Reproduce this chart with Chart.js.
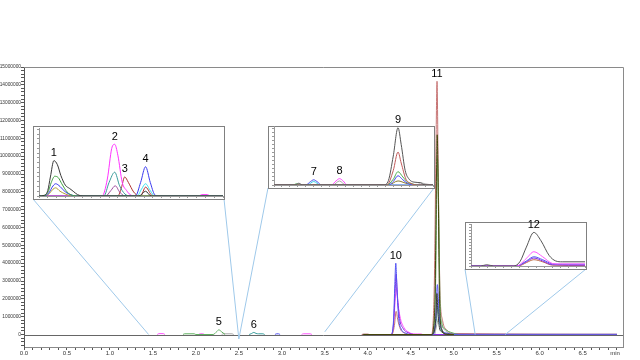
<!DOCTYPE html>
<html><head><meta charset="utf-8">
<script src="https://cdn.jsdelivr.net/npm/chart.js@4.4.1/dist/chart.umd.min.js"></script>
<style>
html,body{margin:0;padding:0;background:#fff;}
#wrap{position:relative;width:640px;height:360px;overflow:hidden;background:#fff;}
canvas{position:absolute;}
</style></head><body>
<div id="wrap">
<canvas id="main" width="640" height="360" style="left:0;top:0"></canvas>
<canvas id="insA"></canvas>
<canvas id="insB"></canvas>
<canvas id="insC"></canvas>
</div>
<script>
// ---------- MAIN CHROMATOGRAM DATA (retention time in min, intensity) ----------
const mainOliveX = [3.95, 4.74, 4.78, 4.80, 4.808, 4.82, 4.835, 4.86, 4.92, 5.0];
const mainOliveY = [0, 0, 1500000, 9000000, 11200000, 8000000, 2000000, 300000, 0, 0];

const mainBlackX = [3.95, 4.74, 4.78, 4.795, 4.805, 4.815, 4.83, 4.86, 4.95, 5.0];
const mainBlackY = [0, 0, 300000, 1200000, 2300000, 1400000, 500000, 150000, 20000, 0];

const mainBlueX = [2.92, 2.94, 2.96, 2.98, 3.0, 4.05, 4.27, 4.30, 4.315, 4.326, 4.34, 4.36, 4.39, 4.44, 4.5, 4.76, 4.79, 4.81, 4.83, 4.86, 4.92, 5.0, 6.9];
const mainBlueY = [0, 40000, 40000, 0, null, 0, 0, 800000, 2800000, 4000000, 2500000, 900000, 300000, 80000, 0, 0, 800000, 2800000, 1200000, 300000, 80000, 10000, 10000];

const mainGreenX = [1.85, 1.87, 1.98, 2.0, 2.2, 2.24, 2.267, 2.30, 2.34, 2.36, 3.95, 4.76, 4.79, 4.81, 4.825, 4.84, 4.86, 4.9, 4.98, 5.05];
const mainGreenY = [0, 40000, 40000, 0, 0, 150000, 260000, 150000, 0, null, 0, 0, 3000000, 9900000, 7000000, 2000000, 700000, 300000, 100000, 0];

const mainRedX = [3.95, 4.28, 4.31, 4.33, 4.35, 4.38, 4.42, 4.5, 4.74, 4.775, 4.795, 4.806, 4.82, 4.84, 4.87, 4.92, 5.0, 6.9];
const mainRedY = [0, 0, 500000, 1300000, 800000, 300000, 100000, 0, 0, 3000000, 11000000, 14200000, 9000000, 2500000, 800000, 250000, 60000, 0];

const mainPurpleX = [3.95, 4.27, 4.30, 4.32, 4.33, 4.345, 4.37, 4.41, 4.47, 4.55, 5.0];
const mainPurpleY = [0, 0, 600000, 2600000, 3400000, 2200000, 900000, 350000, 100000, 0, 0];

const mainMagentaX = [1.55, 1.57, 1.62, 1.64, 1.8, 2.03, 2.05, 2.08, 2.10, 2.5, 3.23, 3.25, 3.33, 3.35, 3.6, 4.05, 4.27, 4.30, 4.32, 4.335, 4.35, 4.38, 4.42, 4.48, 4.55, 4.58, 4.62, 4.64];
const mainMagentaY = [0, 50000, 50000, 0, null, 0, 40000, 40000, 0, null, 0, 40000, 40000, 0, null, 0, 0, 500000, 2000000, 2600000, 1800000, 900000, 400000, 120000, 30000, 30000, 30000, 0];

const mainTealX = [2.62, 2.65, 2.674, 2.70, 2.73, 2.78, 2.80, 3.0, 4.76, 4.80, 4.815, 4.84, 4.9, 4.95];
const mainTealY = [0, 60000, 120000, 60000, 40000, 40000, 0, null, 0, 900000, 1600000, 500000, 50000, 0];

const mainGrayX = [2.30, 2.32, 2.42, 2.44, 3.0, 4.78, 4.81, 4.83, 4.86, 4.92, 5.0];
const mainGrayY = [0, 40000, 40000, 0, null, 0, 700000, 1000000, 500000, 150000, 0];

const mainBrownX = [3.93, 3.95, 4.0, 4.02, 4.5, 5.0, 6.9];
const mainBrownY = [0, 20000, 20000, 0, null, 15000, 15000];

// peak numbers on the main chart
const mainLabels = ['5', '6', '10', '11'];
const mainLabelX = [2.267, 2.674, 4.326, 4.806];
const mainLabelY = [260000, 120000, 4000000, 14200000];

// ---------- INSET A (peaks 1-4) ----------
const insABlackX = [1.45, 1.48, 1.50, 1.515, 1.535, 1.555, 1.575, 1.60, 1.625, 1.645, 1.67, 1.70, 2.02, 2.058, 2.09, 2.5];
const insABlackY = [0, 1, 8, 28, 52, 46, 30, 16, 11, 7, 2, 0, 0, 7, 0, 0];
const insAGreenX = [1.45, 1.485, 1.505, 1.52, 1.54, 1.56, 1.58, 1.61, 1.64, 1.68, 2.5];
const insAGreenY = [0, 1, 8, 20, 29, 27, 18, 6, 1, 0, 0];
const insABlueX = [1.45, 1.49, 1.51, 1.525, 1.545, 1.57, 1.60, 1.63, 1.66, 2.00, 2.03, 2.058, 2.085, 2.11, 2.13, 2.5];
const insABlueY = [0, 1, 6, 13, 18, 14, 6, 2, 0, 0, 20, 43, 20, 2, 0, 0];
const insAOliveX = [1.45, 1.49, 1.51, 1.53, 1.545, 1.57, 1.60, 1.64, 2.5];
const insAOliveY = [0, 0, 4, 10, 12, 7, 3, 0, 0];
const insAMagentaX = [1.45, 1.81, 1.84, 1.865, 1.882, 1.90, 1.925, 1.95, 1.97, 2.0, 2.36, 2.38, 2.41, 2.43, 2.5];
const insAMagentaY = [0, 0, 25, 70, 76, 60, 20, 8, 2, 0, 0, 2, 2, 0, 0];
const insATealX = [1.45, 1.82, 1.85, 1.882, 1.91, 1.94, 1.97, 2.5];
const insATealY = [0, 0, 20, 35, 15, 3, 0, 0];
const insAPurpleX = [1.45, 1.83, 1.86, 1.885, 1.91, 1.94, 2.5];
const insAPurpleY = [0, 0, 8, 15, 6, 0, 0];
const insADarkRedX = [1.45, 1.90, 1.92, 1.939, 1.96, 1.99, 2.02, 2.03, 2.058, 2.09, 2.1, 2.5];
const insADarkRedY = [0, 0, 12, 28, 20, 6, 0, 0, 13, 2, 0, 0];
const insACyanX = [1.45, 2.01, 2.035, 2.058, 2.085, 2.11, 2.5];
const insACyanY = [0, 0, 10, 18, 8, 0, 0];
const insALabels = ['1', '2', '3', '4'];
const insALabelX = [1.535, 1.882, 1.939, 2.058];
const insALabelY = [52, 76, 28, 43];

// ---------- INSET B (peaks 7-9) ----------
const insBBlackX = [2.5, 2.63, 2.656, 2.68, 3.19, 3.22, 3.25, 3.28, 3.30, 3.325, 3.35, 3.38, 3.42, 3.45, 3.5];
const insBBlackY = [0, 0, 3, 0, 0, 8, 50, 99, 70, 25, 10, 5, 4, 0, 0];
const insBRedX = [2.5, 3.21, 3.25, 3.28, 3.30, 3.33, 3.36, 3.40, 3.5];
const insBRedY = [0, 0, 25, 57, 38, 10, 3, 0, 0];
const insBGreenX = [2.5, 2.62, 2.64, 2.66, 3.21, 3.25, 3.28, 3.31, 3.34, 3.37, 3.40, 3.5];
const insBGreenY = [0, 0, 2, 0, 0, 10, 23, 14, 5, 2, 0, 0];
const insBBlueX = [2.5, 2.70, 2.73, 2.75, 2.77, 2.80, 3.22, 3.25, 3.28, 3.31, 3.34, 3.37, 3.5];
const insBBlueY = [0, 0, 6, 9, 6, 0, 0, 6, 16, 9, 3, 0, 0];
const insBCyanX = [2.5, 2.71, 2.75, 2.79, 3.5];
const insBCyanY = [0, 0, 6, 0, 0];
const insBMagentaX = [2.5, 2.86, 2.89, 2.912, 2.935, 2.96, 3.5];
const insBMagentaY = [0, 0, 7, 11, 7, 0, 0];
const insBGrayX = [2.5, 2.87, 2.912, 2.95, 3.40, 3.42, 3.45, 3.5];
const insBGrayY = [0, 0, 7, 0, 0, 4, 2, 0];
const insBOliveX = [2.5, 3.22, 3.28, 3.33, 3.38, 3.5];
const insBOliveY = [0, 0, 7, 3, 0, 0];
const insBLabels = ['7', '8', '9'];
const insBLabelX = [2.75, 2.912, 3.28];
const insBLabelY = [9, 11, 99];

// ---------- INSET C (peak 12) ----------
const insCBlackX = [5.25, 5.28, 5.298, 5.32, 5.38, 5.40, 5.42, 5.443, 5.465, 5.49, 5.51, 5.53, 5.6];
const insCBlackY = [0, 0, 3, 0, 0, 10, 45, 80, 60, 25, 12, 10, 10];
const insCMagentaX = [5.25, 5.39, 5.42, 5.443, 5.47, 5.50, 5.52, 5.6];
const insCMagentaY = [0, 0, 18, 34, 22, 6, 5, 5];
const insCBlueX = [5.25, 5.39, 5.42, 5.443, 5.47, 5.50, 5.53, 5.6];
const insCBlueY = [1, 0, 12, 22, 15, 5, 4, 4];
const insCPurpleX = [5.25, 5.39, 5.42, 5.443, 5.47, 5.50, 5.6];
const insCPurpleY = [1, 0, 10, 19, 12, 3, 2];
const insCBrownX = [5.25, 5.395, 5.42, 5.443, 5.47, 5.50, 5.6];
const insCBrownY = [0, 0, 8, 15, 10, 2, 1];
const insCLabels = ['12'];
const insCLabelX = [5.443];
const insCLabelY = [80];

// connector lines: zoom window on the main time axis for each inset
const zoomFrom = [1.45, 2.50, 5.25];
const zoomTo = [2.50, 3.50, 5.60];
const zoomFromY = [0, -250000, 0];
const zoomToY = [-250000, 150000, 0];

// ---------- layout (inset boxes, pixels) ----------
const LABEL_ROOM = 14;
const insetBoxes = [
  { id: 'insA', left: 33, top: 126, width: 192, height: 74 },
  { id: 'insB', left: 268, top: 126, width: 167, height: 63 },
  { id: 'insC', left: 465, top: 222, width: 122, height: 48 }
];

// ---------- helpers ----------
function pts(xs, ys) { return xs.map((x, i) => ({ x: x, y: ys[i] })); }
function ds(xs, ys, color) {
  return { data: pts(xs, ys), borderColor: color, borderWidth: 1, pointRadius: 0,
           fill: false, cubicInterpolationMode: 'monotone', spanGaps: false };
}
const FONT = "'Liberation Sans', Arial, sans-serif";
Chart.defaults.font.family = FONT;

function labelPlugin(labels, lx, ly) {
  return {
    id: 'peakLabels',
    afterDatasetsDraw(chart) {
      const c = chart.ctx, xs = chart.scales.x, ys = chart.scales.y;
      c.save();
      c.font = '11px ' + FONT;
      c.fillStyle = '#000';
      c.textAlign = 'center';
      c.textBaseline = 'bottom';
      labels.forEach((t, i) => {
        c.fillText(t, xs.getPixelForValue(lx[i]), ys.getPixelForValue(ly[i]) - 2);
      });
      c.restore();
    }
  };
}

// ---------- main chart ----------
const framePlugin = {
  id: 'frame',
  beforeDatasetsDraw(chart) {
    const c = chart.ctx, a = chart.chartArea, ys = chart.scales.y;
    c.save();
    c.strokeStyle = '#8a8a8a'; c.lineWidth = 1;
    c.beginPath();
    c.moveTo(a.left, a.top + 0.5); c.lineTo(a.right + 0.5, a.top + 0.5); c.lineTo(a.right + 0.5, a.bottom);
    c.stroke();
    const y0 = Math.round(ys.getPixelForValue(0)) + 0.5;
    c.strokeStyle = '#666';
    c.beginPath(); c.moveTo(a.left, y0); c.lineTo(a.right, y0); c.stroke();
    c.restore();
  },
  afterDatasetsDraw(chart) {
    const c = chart.ctx, xs = chart.scales.x, ys = chart.scales.y, a = chart.chartArea;
    c.save();
    c.strokeStyle = '#9fc9ea'; c.lineWidth = 1;
    insetBoxes.forEach((b, i) => {
      const l = b.left, r = b.left + b.width - 1, bt = b.top + b.height - 1;
      c.beginPath();
      c.moveTo(l, bt); c.lineTo(xs.getPixelForValue(zoomFrom[i]), ys.getPixelForValue(zoomFromY[i]));
      c.moveTo(r, bt); c.lineTo(xs.getPixelForValue(zoomTo[i]), ys.getPixelForValue(zoomToY[i]));
      c.stroke();
    });
    c.fillStyle = '#333';
    c.font = '6px ' + FONT;
    c.textAlign = 'center'; c.textBaseline = 'top';
    c.fillText('min', a.right - 8, a.bottom + 3);
    c.restore();
  }
};

new Chart(document.getElementById('main'), {
  type: 'line',
  data: {
    datasets: [
      ds(mainOliveX, mainOliveY, '#46460c'),
      ds(mainBlackX, mainBlackY, '#3a3a3a'),
      ds(mainBlueX, mainBlueY, '#5252f2'),
      ds(mainGreenX, mainGreenY, '#5fb05f'),
      ds(mainRedX, mainRedY, '#c77474'),
      ds(mainPurpleX, mainPurpleY, '#8a2be2'),
      ds(mainMagentaX, mainMagentaY, '#ff55ff'),
      ds(mainTealX, mainTealY, '#3c9e9e'),
      ds(mainGrayX, mainGrayY, '#a8a8a8'),
      ds(mainBrownX, mainBrownY, '#a05050')
    ]
  },
  options: {
    responsive: false, animation: false, devicePixelRatio: 1,
    layout: { padding: { top: 67, right: 17, left: 0, bottom: 0 } },
    plugins: { legend: { display: false }, tooltip: { enabled: false } },
    scales: {
      x: {
        type: 'linear', min: 0, max: 6.97,
        afterFit(s) { s.height = 13; },
        grid: { display: true, drawOnChartArea: false, drawTicks: true, tickLength: 3, tickColor: '#555' },
        border: { display: true, color: '#8a8a8a' },
        ticks: {
          stepSize: 0.1, autoSkip: false, includeBounds: false, maxRotation: 0, padding: 0,
          font: { size: 6 }, color: '#333',
          callback(v) { return Math.abs(v * 2 - Math.round(v * 2)) < 1e-6 ? v.toFixed(1) : ''; }
        }
      },
      y: {
        type: 'linear', min: -700000, max: 15000000,
        afterFit(s) { s.width = 24; },
        afterBuildTicks(s) { s.ticks = s.ticks.filter(t => Math.round(t.value) % 200000 === 0); },
        grid: { display: true, drawOnChartArea: false, drawTicks: true, tickLength: 3, tickColor: '#555' },
        border: { display: true, color: '#555' },
        ticks: {
          stepSize: 100000, autoSkip: false, includeBounds: false, padding: 0,
          font: { size: 4.8 }, color: '#333',
          callback(v) { return Math.abs(v / 1e6 - Math.round(v / 1e6)) < 1e-6 ? String(Math.round(v)) : ''; }
        }
      }
    }
  },
  plugins: [framePlugin, labelPlugin(mainLabels, mainLabelX, mainLabelY)]
});

// ---------- insets ----------
const boxPlugin = {
  id: 'insetBox',
  beforeDraw(chart) {
    const c = chart.ctx, w = chart.width, h = chart.height;
    c.save();
    c.fillStyle = '#fff';
    c.fillRect(0, LABEL_ROOM, w, h - LABEL_ROOM);
    c.strokeStyle = '#808080'; c.lineWidth = 1;
    c.strokeRect(0.5, LABEL_ROOM + 0.5, w - 1, h - LABEL_ROOM - 1);
    c.restore();
  }
};

function makeInset(box, datasets, xmin, xmax, ymax, xstep, ystep, labels, lx, ly, padTop) {
  const cv = document.getElementById(box.id);
  cv.width = box.width; cv.height = box.height + LABEL_ROOM;
  cv.style.left = box.left + 'px'; cv.style.top = (box.top - LABEL_ROOM) + 'px';
  new Chart(cv, {
    type: 'line',
    data: { datasets: datasets },
    options: {
      responsive: false, animation: false, devicePixelRatio: 1,
      layout: { padding: { top: LABEL_ROOM + padTop, right: 2, left: 1, bottom: 1 } },
      plugins: { legend: { display: false }, tooltip: { enabled: false } },
      scales: {
        x: {
          type: 'linear', min: xmin, max: xmax,
          afterFit(s) { s.height = 3; },
          grid: { display: true, drawOnChartArea: false, drawTicks: true, tickLength: 2, tickColor: '#999' },
          border: { display: true, color: '#999' },
          ticks: { display: false, stepSize: xstep, autoSkip: false, includeBounds: false }
        },
        y: {
          type: 'linear', min: 0, max: ymax,
          afterFit(s) { s.width = 5; },
          grid: { display: true, drawOnChartArea: false, drawTicks: true, tickLength: 2, tickColor: '#999' },
          border: { display: true, color: '#999' },
          ticks: { display: false, stepSize: ystep, autoSkip: false, includeBounds: false }
        }
      }
    },
    plugins: [boxPlugin, labelPlugin(labels, lx, ly)]
  });
}

makeInset(insetBoxes[0], [
  ds(insABlackX, insABlackY, '#3a3a3a'),
  ds(insAGreenX, insAGreenY, '#3fa03f'),
  ds(insABlueX, insABlueY, '#3b3bf0'),
  ds(insAOliveX, insAOliveY, '#b0a030'),
  ds(insAMagentaX, insAMagentaY, '#ff33ff'),
  ds(insATealX, insATealY, '#3a9c9c'),
  ds(insAPurpleX, insAPurpleY, '#a04aa0'),
  ds(insADarkRedX, insADarkRedY, '#b03030'),
  ds(insACyanX, insACyanY, '#33e0f0')
], 1.45, 2.50, 100, 0.05, 7, insALabels, insALabelX, insALabelY, 2);

makeInset(insetBoxes[1], [
  ds(insBBlackX, insBBlackY, '#555555'),
  ds(insBRedX, insBRedY, '#c05a5a'),
  ds(insBGreenX, insBGreenY, '#4caf4c'),
  ds(insBBlueX, insBBlueY, '#4a4af0'),
  ds(insBCyanX, insBCyanY, '#33d0e8'),
  ds(insBMagentaX, insBMagentaY, '#ff44ff'),
  ds(insBGrayX, insBGrayY, '#aaaaaa'),
  ds(insBOliveX, insBOliveY, '#8a7a30')
], 2.50, 3.50, 102, 0.05, 7, insBLabels, insBLabelX, insBLabelY, 0);

makeInset(insetBoxes[2], [
  ds(insCBlackX, insCBlackY, '#555555'),
  ds(insCMagentaX, insCMagentaY, '#ff55ff'),
  ds(insCBlueX, insCBlueY, '#5a5af0'),
  ds(insCPurpleX, insCPurpleY, '#8a2be2'),
  ds(insCBrownX, insCBrownY, '#c0704a')
], 5.25, 5.60, 100, 0.025, 7, insCLabels, insCLabelX, insCLabelY, 2);
</script>
</body></html>
